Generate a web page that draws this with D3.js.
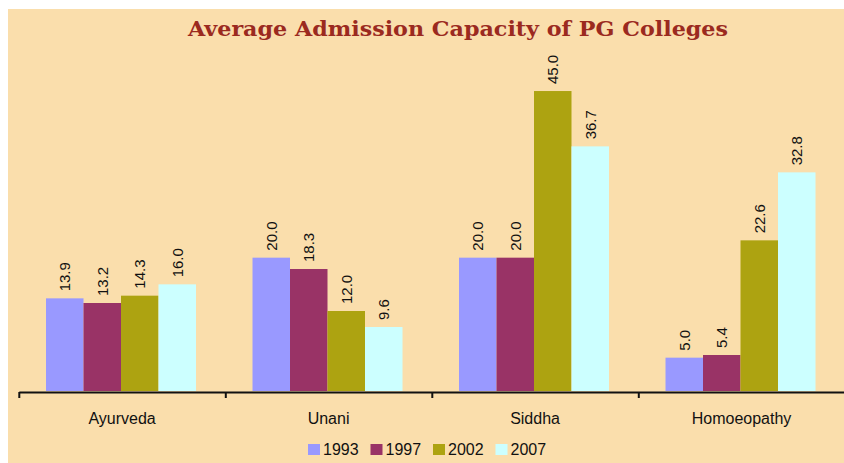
<!DOCTYPE html>
<html>
<head>
<meta charset="utf-8">
<script src="https://cdn.jsdelivr.net/npm/d3@7"></script>
<style>
  body { margin: 0; background: #fff; }
  svg { display: block; }
</style>
</head>
<body>
<div class="chart"></div>
<script>
const w = 844
const h = 463

const categories = ["Ayurveda", "Unani", "Siddha", "Homoeopathy"]
const years = ["1993", "1997", "2002", "2007"]
const values1993 = [13.9, 20.0, 20.0, 5.0]
const values1997 = [13.2, 18.3, 20.0, 5.4]
const values2002 = [14.3, 12.0, 45.0, 22.6]
const values2007 = [16.0, 9.6, 36.7, 32.8]
const colors = ["#9999ff", "#993366", "#ada311", "#ccffff"]

const series = [values1993, values1997, values2002, values2007]
const rows = []
categories.forEach((c, ci) => {
    years.forEach((y, yi) => rows.push({cat: c, year: y, value: series[yi][ci]}))
})

const svg = d3.select(".chart").append("svg")
    .attr("width", w)
    .attr("height", h)

// panel background
svg.append("rect")
    .attr("x", 8).attr("y", 9)
    .attr("width", w - 8).attr("height", h - 9)
    .attr("fill", "#fadeac")

svg.append("text")
    .attr("x", 458)
    .attr("y", 36)
    .attr("text-anchor", "middle")
    .attr("font-family", "DejaVu Serif")
    .attr("font-weight", "bold")
    .attr("font-size", 21)
    .attr("fill", "#9b2a1f")
    .attr("textLength", 540)
    .attr("lengthAdjust", "spacingAndGlyphs")
    .text("Average Admission Capacity of PG Colleges")

const left = 18.8, right = 844.8, baseY = 391

const x0 = d3.scaleBand()
    .domain(categories)
    .range([left, right])

const x1 = d3.scaleBand()
    .domain(years)
    .range([27.2, 177.2])

const y = d3.scaleLinear()
    .domain([0, 50])
    .range([baseY, 57.7])

const color = d3.scaleOrdinal().domain(years).range(colors)

const bars = svg.selectAll(".bar")
    .data(rows)
    .enter()
    .append("g")
    .attr("transform", d => `translate(${x0(d.cat) + x1(d.year)},0)`)

bars.append("rect")
    .attr("y", d => y(d.value))
    .attr("width", x1.bandwidth())
    .attr("height", d => baseY - y(d.value))
    .attr("fill", d => color(d.year))

bars.append("text")
    .attr("transform", d => `translate(${x1.bandwidth() / 2 + 5.5},${y(d.value) - 7}) rotate(-90)`)
    .attr("font-family", "Liberation Sans, Arial, sans-serif")
    .attr("font-size", 15)
    .attr("fill", "#111")
    .text(d => d.value.toFixed(1))

// axis with ticks at category boundaries
const xb = d3.scaleLinear().domain([0, 4]).range([left, right])
const axis = svg.append("g")
    .attr("transform", `translate(0,${baseY + 1})`)
    .call(d3.axisBottom(xb).tickValues([0, 1, 2, 3, 4]).tickSize(6).tickSizeOuter(0).tickFormat(""))
axis.select(".domain").attr("stroke", "#111").attr("stroke-width", 2)
axis.selectAll(".tick line").attr("stroke", "#111").attr("stroke-width", 2)

svg.selectAll(".cat")
    .data(categories)
    .enter()
    .append("text")
    .attr("x", d => x0(d) + x0.bandwidth() / 2)
    .attr("y", 424)
    .attr("text-anchor", "middle")
    .attr("font-family", "Liberation Sans, Arial, sans-serif")
    .attr("font-size", 16)
    .attr("fill", "#111")
    .text(d => d)

const legend = svg.selectAll(".legend")
    .data(years)
    .enter()
    .append("g")
    .attr("transform", (d, i) => `translate(${308 + i * 62.5},444)`)

legend.append("rect")
    .attr("width", 12)
    .attr("height", 11)
    .attr("fill", d => color(d))

legend.append("text")
    .attr("x", 15)
    .attr("y", 11)
    .attr("font-family", "Liberation Sans, Arial, sans-serif")
    .attr("font-size", 16)
    .attr("fill", "#111")
    .text(d => d)
</script>
</body>
</html>
